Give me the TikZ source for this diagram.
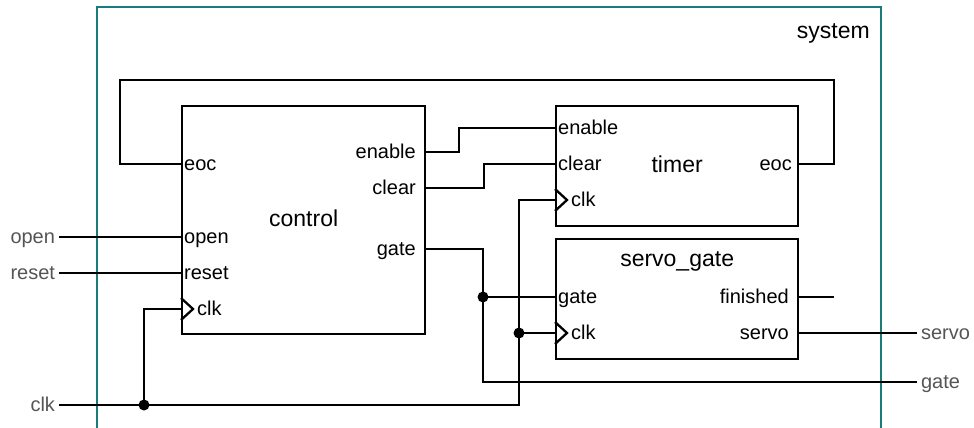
\documentclass[tikz,border=0pt]{standalone}
\usepackage{fontspec}
\setmainfont{Liberation Sans}
\usepackage{xcolor}
\usetikzlibrary{positioning, calc}

\definecolor{systeal}{RGB}{24,124,124}
\definecolor{extgray}{RGB}{85,85,85}

\begin{document}
\begin{tikzpicture}[x=1pt, y=-1pt,
  blk/.style={draw, line width=2.3pt, anchor=north west, inner sep=0pt, font=\fontsize{23}{26}\selectfont, text height=16pt, text depth=3pt},
  ttl/.style={font=\fontsize{23}{26}\selectfont, text height=16pt, text depth=3pt, inner sep=0pt},
  pin_l/.style={anchor=west, font=\fontsize{20}{24}\selectfont, text height=16pt, text depth=4pt, inner sep=3pt},
  pin_r/.style={anchor=east, font=\fontsize{20}{24}\selectfont, text height=16pt, text depth=4pt, inner sep=3pt, xshift=-5pt},
  ext_l/.style={font=\fontsize{20}{24}\selectfont, text=extgray, text height=16pt, text depth=4pt, inner sep=4pt, outer sep=0pt},
  wire/.style={line width=2.3pt, line join=miter},
  clkmark/.style={line width=2.3pt},
  dot/.style={circle, fill, inner sep=0pt, minimum size=11pt}
]
  \useasboundingbox (0,0) rectangle (974,428);

  % System frame (open at the bottom)
  \draw[systeal, line width=2.2pt] (97,432) -- (97,7) -- (881,7) -- (881,432);
  \node[ttl, anchor=east] (sysname) at (870,31.5) {system};

  % Blocks
  \node[blk, minimum width=243pt, minimum height=228pt] (ctl) at (181,105) {control};
  \node[blk, minimum width=242pt, minimum height=120pt] (tmr) at (555,105) {timer};
  \node[blk, minimum width=242pt, minimum height=120pt] (sg) at (555,238) {};
  \node[ttl] (sgname) at ($(sg.north)+(0,22)$) {servo\_gate};

  % Ports of control
  \coordinate (ctl-eoc) at (181,164);
  \coordinate (ctl-open) at (181,237);
  \coordinate (ctl-reset) at (181,273);
  \coordinate (ctl-clk) at (181,309);
  \coordinate (ctl-en) at (424,152);
  \coordinate (ctl-clr) at (424,188);
  \coordinate (ctl-gate) at (424,249);

  % Ports of timer
  \coordinate (tmr-en) at (555,128);
  \coordinate (tmr-clr) at (555,164);
  \coordinate (tmr-clk) at (555,200);
  \coordinate (tmr-eoc) at (797,164);

  % Ports of servo_gate
  \coordinate (sg-gate) at (555,297);
  \coordinate (sg-clk) at (555,333);
  \coordinate (sg-fin) at (797,297);
  \coordinate (sg-servo) at (797,333);

  % Port labels
  \node[pin_l] (ctl-eoc-t) at (ctl-eoc) {eoc};
  \node[pin_l] (ctl-open-t) at (ctl-open) {open};
  \node[pin_l] (ctl-reset-t) at (ctl-reset) {reset};
  \node[pin_l, xshift=13pt] (ctl-clk-t) at (ctl-clk) {clk};
  \node[pin_r] (ctl-en-t) at (ctl-en) {enable};
  \node[pin_r] (ctl-clr-t) at (ctl-clr) {clear};
  \node[pin_r] (ctl-gate-t) at (ctl-gate) {gate};

  \node[pin_l] (tmr-en-t) at (tmr-en) {enable};
  \node[pin_l] (tmr-clr-t) at (tmr-clr) {clear};
  \node[pin_l, xshift=13pt] (tmr-clk-t) at (tmr-clk) {clk};
  \node[pin_r, xshift=3pt] (tmr-eoc-t) at (tmr-eoc) {eoc};

  \node[pin_l] (sg-gate-t) at (sg-gate) {gate};
  \node[pin_l, xshift=13pt] (sg-clk-t) at (sg-clk) {clk};
  \node[pin_r] (sg-fin-t) at (sg-fin) {finished};
  \node[pin_r] (sg-servo-t) at (sg-servo) {servo};

  % Clock marks
  \draw[clkmark] ($(ctl-clk)+(0,-11)$) -- ++(12,11) -- ++(-12,11);
  \draw[clkmark] ($(tmr-clk)+(0,-11)$) -- ++(12,11) -- ++(-12,11);
  \draw[clkmark] ($(sg-clk)+(0,-11)$) -- ++(12,11) -- ++(-12,11);

  % External pins
  \node[ext_l, anchor=east] (open) at (59,237) {open};
  \node[ext_l, anchor=east] (reset) at (59,273) {reset};
  \node[ext_l, anchor=east] (clk) at (59,405) {clk};
  \node[ext_l, anchor=west] (servo) at (917,333) {servo};
  \node[ext_l, anchor=west] (gate) at (917,382) {gate};

  % Bend points and junctions
  \coordinate (loop-r) at (834,80);
  \coordinate (loop-l) at (120,80);
  \coordinate (fin-end) at (834,297);
  \coordinate (j-gate) at (483,297);
  \coordinate (j-clk1) at (144,405);
  \coordinate (j-clk2) at (519,333);
  \coordinate (clk-bus) at (519,405);

  % Wires
  \draw[wire] (tmr-eoc) -| (loop-r) -- (loop-l) |- (ctl-eoc);
  \draw[wire] (ctl-en) -- ++(35,0) |- (tmr-en);
  \draw[wire] (ctl-clr) -- ++(60,0) |- (tmr-clr);
  \draw[wire] (ctl-gate) -| (j-gate) |- (gate.west);
  \draw[wire] (j-gate) -- (sg-gate);
  \draw[wire] (open.east) -- (ctl-open);
  \draw[wire] (reset.east) -- (ctl-reset);
  \draw[wire] (clk.east) -- (clk-bus) |- (tmr-clk);
  \draw[wire] (j-clk1) |- (ctl-clk);
  \draw[wire] (j-clk2) -- (sg-clk);
  \draw[wire] (sg-fin) -- (fin-end);
  \draw[wire] (sg-servo) -- (servo.west);

  \node[dot] (d-gate) at (j-gate) {};
  \node[dot] (d-clk1) at (j-clk1) {};
  \node[dot] (d-clk2) at (j-clk2) {};

\end{tikzpicture}
\end{document}
